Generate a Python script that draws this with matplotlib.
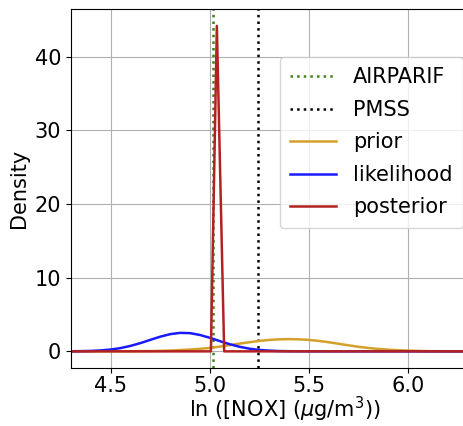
import matplotlib
matplotlib.use('Agg')
import matplotlib.pyplot as plt

# reference values (vertical markers)
airparif = 5.017
pmss = 5.241

# prior / likelihood densities
x_grid = [4.30, 4.35, 4.40, 4.45, 4.50, 4.55, 4.60, 4.65, 4.70, 4.75,
          4.80, 4.85, 4.90, 4.95, 5.00, 5.05, 5.10, 5.15, 5.20, 5.25,
          5.30, 5.35, 5.40, 5.45, 5.50, 5.55, 5.60, 5.65, 5.70, 5.75,
          5.80, 5.85, 5.90, 5.95, 6.00, 6.05, 6.10, 6.15, 6.20, 6.25,
          6.30, 6.40, 6.50]
prior = [0.00, 0.00, 0.00, 0.005, 0.01, 0.01, 0.02, 0.03, 0.04, 0.07,
         0.11, 0.17, 0.25, 0.34, 0.47, 0.64, 0.85, 1.05, 1.24, 1.42,
         1.55, 1.63, 1.66, 1.63, 1.55, 1.42, 1.24, 1.03, 0.82, 0.62,
         0.46, 0.33, 0.23, 0.16, 0.10, 0.06, 0.03, 0.02, 0.01, 0.005,
         0.00, 0.00, 0.00]
likelihood = [0.01, 0.03, 0.06, 0.13, 0.25, 0.45, 0.75, 1.13, 1.57, 2.00,
              2.34, 2.51, 2.47, 2.22, 1.84, 1.39, 0.97, 0.62, 0.36, 0.19,
              0.10, 0.04, 0.02, 0.008, 0.003, 0.00, 0.00, 0.00, 0.00, 0.00,
              0.00, 0.00, 0.00, 0.00, 0.00, 0.00, 0.00, 0.00, 0.00, 0.00,
              0.00, 0.00, 0.00]

# posterior is a very narrow spike
x_post = [4.30, 5.005, 5.035, 5.072, 6.50]
posterior = [0.0, 0.0, 44.2, 0.0, 0.0]

fig = plt.figure(figsize=(4.64, 4.26), dpi=100)
# axes runs past the right edge of the figure, as in the original crop
ax = fig.add_axes([0.153, 0.136, 0.92, 0.843])

ax.axvline(airparif, color='#3f7f17', linestyle=':', linewidth=1.8, label='AIRPARIF')
ax.axvline(pmss, color='black', linestyle=':', linewidth=1.8, label='PMSS')
ax.plot(x_grid, prior, color='#d4a02a', linewidth=1.8, label='prior')
ax.plot(x_grid, likelihood, color='#1a1aff', linewidth=1.8, label='likelihood')
ax.plot(x_post, posterior, color='#b22222', linewidth=1.8, label='posterior')

ax.set_xlim(4.298, 6.455)
ax.set_ylim(-2.27, 46.5)
ax.set_xticks([4.5, 5.0, 5.5, 6.0])
ax.set_yticks([0, 10, 20, 30, 40])
ax.tick_params(labelsize=15)
ax.tick_params(axis='x', pad=2.5)
ax.grid(True)

ax.set_xlabel('ln ([NOX] ($\\mu$g/m$^3$))', fontsize=15, labelpad=-1)
ax.set_ylabel('Density', fontsize=15)

ax.legend(loc='upper left', bbox_to_anchor=(280 / 464, 1 - 57 / 426),
          bbox_transform=fig.transFigure, borderaxespad=0,
          fontsize=15, handlelength=2.2, labelspacing=0.6, borderpad=0.5)

fig.savefig('out.png', dpi=100)
